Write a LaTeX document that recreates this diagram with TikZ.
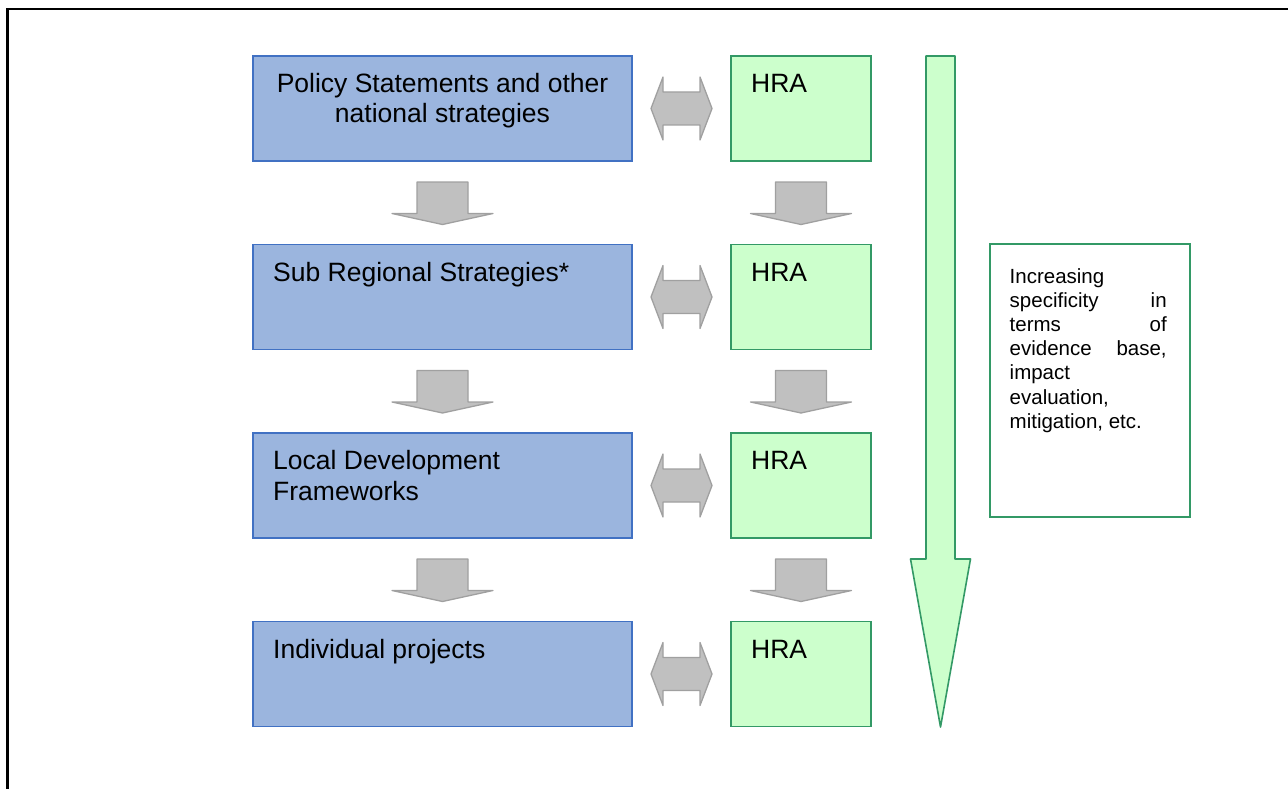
\documentclass[tikz,border=0pt]{standalone}
\usepackage{fontspec}
\setmainfont{Liberation Sans}
\usetikzlibrary{calc}
\definecolor{bluefill}{RGB}{155,181,222}
\definecolor{blueline}{RGB}{65,113,195}
\definecolor{greenfill}{RGB}{204,255,204}
\definecolor{greenline}{RGB}{51,153,102}
\definecolor{grayfill}{RGB}{192,192,192}
\definecolor{grayline}{RGB}{160,160,160}
\newcommand\downblk[2]{%
  \draw[blockarrow] ($(#1.south)+(-25.5,21)$) -- ($(#1.south)+(25.5,21)$)
    -- ($(#2.north)+(25.5,-31)$) -- ($(#2.north)+(50.5,-31)$)
    -- ($(#2.north)+(0,-20)$) -- ($(#2.north)+(-50.5,-31)$)
    -- ($(#2.north)+(-25.5,-31)$) -- cycle;}
\newcommand\twoblk[2]{%
  \draw[blockarrow] ($(#1.east)+(19,0)$) -- ($(#1.east)+(31,-31.5)$)
    -- ($(#1.east)+(31,-16.5)$) -- ($(#2.west)+(-31,-16.5)$)
    -- ($(#2.west)+(-31,-31.5)$) -- ($(#2.west)+(-19,0)$)
    -- ($(#2.west)+(-31,31.5)$) -- ($(#2.west)+(-31,16.5)$)
    -- ($(#1.east)+(31,16.5)$) -- ($(#1.east)+(31,31.5)$) -- cycle;}
\begin{document}
\begin{tikzpicture}[x=1pt,y=-1pt,
  bluebox/.style={draw=blueline,fill=bluefill,line width=1.6pt,minimum width=379pt,minimum height=105pt,inner sep=0pt,outer sep=0pt},
  greenbox/.style={draw=greenline,fill=greenfill,line width=1.6pt,minimum width=140pt,minimum height=105pt,inner sep=0pt,outer sep=0pt},
  notebox/.style={draw=greenline,fill=white,line width=1.6pt,minimum width=200pt,minimum height=273pt,inner sep=0pt},
  blockarrow/.style={draw=grayline,fill=grayfill,line width=1.3pt,line join=round},
  bigarrow/.style={draw=greenline,fill=greenfill,line width=1.6pt,line join=round},
  maintext/.style={font=\fontsize{26.5}{30.5}\selectfont,inner sep=0pt},
  sidetext/.style={font=\fontsize{20.5}{24.2}\selectfont,inner sep=0pt}]
\useasboundingbox (0,0) rectangle (1288,789);
\fill[white] (0,0) rectangle (1288,789);
\draw[line width=2.5pt] (7.7,789) -- (7.7,9) -- (1288,9);

% blue boxes
\node[bluebox] (b1) at (442.5,108.5) {};
\node[bluebox] (b2) at (442.5,297) {};
\node[bluebox] (b3) at (442.5,485.5) {};
\node[bluebox] (b4) at (442.5,674) {};
% green boxes
\node[greenbox] (h1) at (801,108.5) {};
\node[greenbox] (h2) at (801,297) {};
\node[greenbox] (h3) at (801,485.5) {};
\node[greenbox] (h4) at (801,674) {};

% texts
\node[maintext,anchor=base] (t1) at (442.5,92.5) {\vtop{\halign{\hfil#\hfil\cr Policy Statements and other\cr national strategies\cr}}};
\node[maintext,anchor=base west] (t2) at (273,281) {Sub Regional Strategies*};
\node[maintext,anchor=base west] (t3) at (273,469.5) {\vtop{\halign{#\hfil\cr Local Development\cr Frameworks\cr}}};
\node[maintext,anchor=base west] (t4) at (273,658) {Individual projects};
\node[maintext,anchor=base west] (r1) at (751,92.5) {HRA};
\node[maintext,anchor=base west] (r2) at (751,281) {HRA};
\node[maintext,anchor=base west] (r3) at (751,469.5) {HRA};
\node[maintext,anchor=base west] (r4) at (751,658) {HRA};

% down arrows
\downblk{b1}{b2}
\downblk{b2}{b3}
\downblk{b3}{b4}
\downblk{h1}{h2}
\downblk{h2}{h3}
\downblk{h3}{h4}
% double arrows
\twoblk{b1}{h1}
\twoblk{b2}{h2}
\twoblk{b3}{h3}
\twoblk{b4}{h4}

% big arrow
\coordinate (gtop) at (940.5,56);
\coordinate (gtip) at (940.5,727);
\draw[bigarrow] ($(gtop)+(-14.5,0)$) -- ($(gtop)+(14.5,0)$) -- ($(gtip)+(14.5,-168)$)
  -- ($(gtip)+(30,-168)$) -- (gtip) -- ($(gtip)+(-30,-168)$) -- ($(gtip)+(-14.5,-168)$) -- cycle;

% note box
\node[notebox] (note) at (1090,380.5) {};
\node[sidetext,anchor=base west] (notetext) at (1009.5,283) {\vtop{%
  \hbox to 157pt{Increasing\hfil}%
  \hbox to 157pt{specificity\hfil in}%
  \hbox to 157pt{terms\hfil of}%
  \hbox to 157pt{evidence\hfil base,}%
  \hbox to 157pt{impact\hfil}%
  \hbox to 157pt{evaluation,\hfil}%
  \hbox to 157pt{mitigation, etc.\hfil}}};
\end{tikzpicture}
\end{document}
